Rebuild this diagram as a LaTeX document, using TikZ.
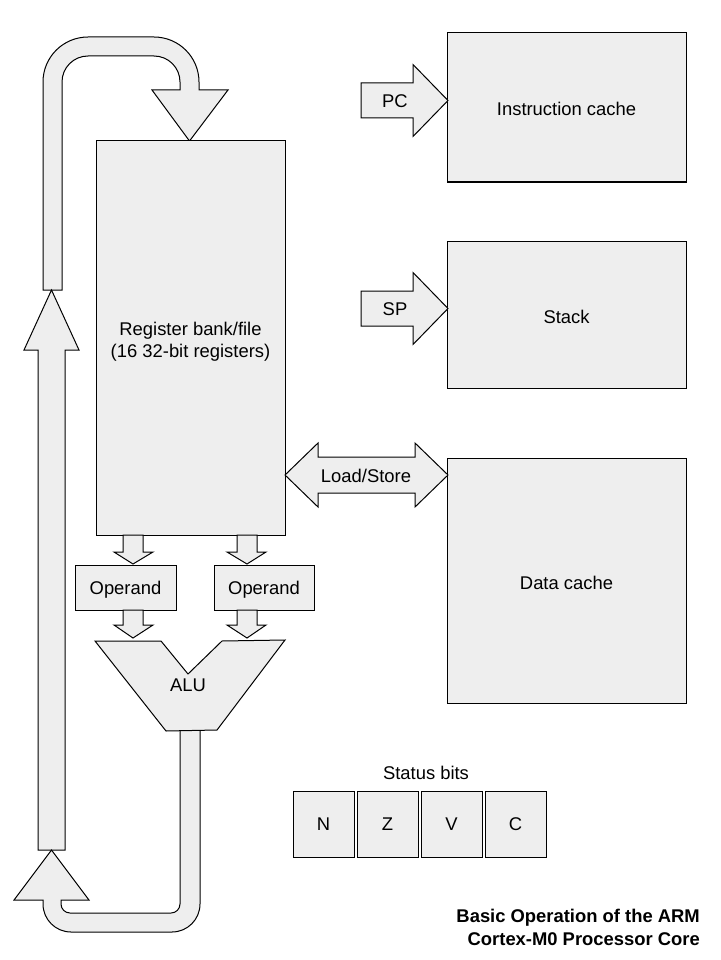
\documentclass[tikz,border=0pt]{standalone}
\usepackage{fontspec}
\setmainfont{Liberation Sans}
\definecolor{panel}{HTML}{EEEEEE}
\begin{document}
\begin{tikzpicture}[x=1pt,y=-1pt,
  every node/.style={font=\fontsize{18.4}{22}\selectfont},
  unit/.style={draw=black, fill=panel, line width=1pt, inner sep=0pt},
  flow/.style={draw=black, fill=panel, line width=1pt, line join=miter},
  caption/.style={inner sep=0pt, align=center}]
\useasboundingbox (0,0) rectangle (720,960);

% feedback path: top loop into the register bank
\draw[flow] (43,290) -- (43,82) arc[start angle=180, end angle=90, radius=45pt]
  -- (154,37) arc[start angle=90, end angle=0, radius=45pt]
  -- (199,90) -- (228,90) -- (189.5,141) -- (152,90) -- (180,90) -- (180,82)
  arc[start angle=0, end angle=90, radius=26pt] -- (88,56)
  arc[start angle=90, end angle=180, radius=26pt] -- (62,290) -- cycle;

% feedback path: straight upward segment
\draw[flow] (38,850) -- (38,350) -- (24,350) -- (51.5,290) -- (79,350)
  -- (65,350) -- (65,850) -- cycle;

% feedback path: from the ALU output round the bottom
\draw[flow] (180,730) -- (180,904) arc[start angle=0, end angle=-90, radius=9pt]
  -- (70,913) arc[start angle=270, end angle=180, radius=9pt]
  -- (61,900) -- (89,900) -- (51.5,850) -- (14,900) -- (43,900) -- (43,904)
  arc[start angle=180, end angle=270, radius=28pt] -- (172,932)
  arc[start angle=270, end angle=360, radius=28pt] -- (200,730) -- cycle;

% register bank and operand latches
\node[unit, minimum width=189pt, minimum height=394pt] (reg) at (190.5,338) {};
\node[caption] (regtext) at ([yshift=-4pt]reg.center) {Register bank/file\\(16 32-bit registers)};
\node[unit, minimum width=101pt, minimum height=45pt] (opa) at (125.5,587.5) {};
\node[caption] (opatext) at ([yshift=-2.5pt]opa.center) {Operand};
\node[unit, minimum width=100pt, minimum height=45pt] (opb) at (264,587.5) {};
\node[caption] (opbtext) at ([yshift=-2.5pt]opb.center) {Operand};

% small transfer arrows: registers -> operands -> ALU
\draw[flow] (123,535) -- (123,552) -- (114,552) -- (133,564) -- (153,552) -- (143,552) -- (143,535) -- cycle;
\draw[flow] (237,535) -- (237,552) -- (227,552) -- (247,564) -- (266,552) -- (257,552) -- (257,535) -- cycle;
\draw[flow] (123,610) -- (123,625) -- (114,625) -- (133,638) -- (153,625) -- (143,625) -- (143,610) -- cycle;
\draw[flow] (237,610) -- (237,625) -- (227,625) -- (247,638) -- (266,625) -- (257,625) -- (257,610) -- cycle;

% ALU
\draw[flow] (95,641) -- (161,641) -- (188,674) -- (222,641) -- (285,640)
  -- (217,730) -- (166,731) -- cycle;
\node[caption] (alu) at (188,685) {ALU};

% memories
\node[unit, minimum width=239pt, minimum height=149pt] (icache) at (566.5,107.5) {};
\node[caption] (icachetext) at ([yshift=-1pt]icache.center) {Instruction cache};
\node[unit, minimum width=239pt, minimum height=147pt] (stack) at (566.5,314.5) {};
\node[caption] (stacktext) at ([yshift=-2pt]stack.center) {Stack};
\node[unit, minimum width=239pt, minimum height=245pt] (dcache) at (566.5,580.5) {};
\node[caption] (dcachetext) at ([yshift=-2pt]dcache.center) {Data cache};

% PC, SP and load/store paths
\draw[flow] (361,83) -- (413,83) -- (413,64.5) -- (448,100.5) -- (413,136.5) -- (413,118) -- (361,118) -- cycle;
\node[caption] (pc) at (395,101) {PC};
\draw[flow] (361,291) -- (413,291) -- (413,272.5) -- (448,308.5) -- (413,344.5) -- (413,326) -- (361,326) -- cycle;
\node[caption] (sp) at (395,309) {SP};
\draw[flow] (285,475) -- (318,443) -- (318,457) -- (415,457) -- (415,443) -- (448,475)
  -- (415,507) -- (415,493) -- (318,493) -- (318,507) -- cycle;
\node[caption] (ls) at (366,476) {Load/Store};

% status flags
\node[caption] (status) at (426,773) {Status bits};
\node[unit, minimum width=61pt, minimum height=66pt] (n) at (323.5,824) {N};
\node[unit, minimum width=61pt, minimum height=66pt] (z) at (387.5,824) {Z};
\node[unit, minimum width=61pt, minimum height=66pt] (v) at (451.5,824) {V};
\node[unit, minimum width=61pt, minimum height=66pt] (c) at (515.5,824) {C};

% title
\node[caption, anchor=east, align=right, font=\bfseries\fontsize{18.4}{23}\selectfont]
  (title) at (700,927) {Basic Operation of the ARM\\Cortex-M0 Processor Core};
\end{tikzpicture}
\end{document}
